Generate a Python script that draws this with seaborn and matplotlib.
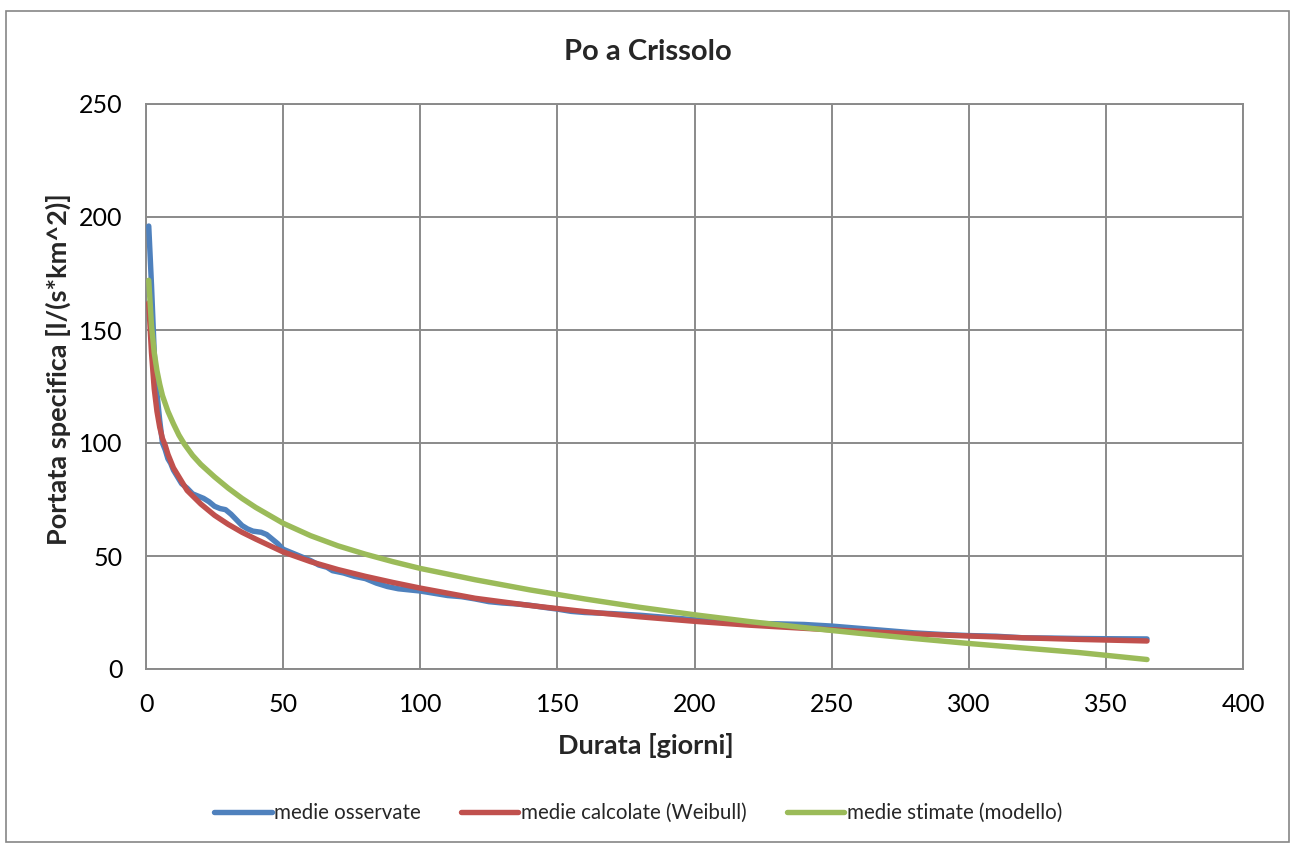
import matplotlib
matplotlib.use("Agg")
import matplotlib.pyplot as plt
from matplotlib.patches import Rectangle
import seaborn as sns
import pandas as pd

# Curva di durata delle portate specifiche - Po a Crissolo
days_obs = [1, 2, 3, 4, 5, 6, 7, 8, 9, 10, 11, 12, 13, 15, 17, 19, 21, 23, 25, 27,
            29, 31, 33, 35, 37, 39, 42, 44, 46, 48, 50, 52, 55, 58, 60, 63, 66, 68,
            72, 76, 80, 84, 88, 92, 100, 105, 110, 115, 120, 125, 130, 135, 140, 145,
            150, 155, 160, 170, 180, 190, 200, 210, 220, 230, 240, 250, 260, 270, 280,
            290, 300, 310, 320, 330, 340, 350, 365]
q_obs = [196, 170, 140, 122, 110, 100, 97, 93, 91, 88, 86, 84, 82, 80, 77.5, 76.5,
         75.5, 74, 72, 71, 70.5, 68.5, 66, 63.5, 62, 61, 60.5, 59.5, 57.5, 55.5, 53,
         52, 50.5, 49, 48, 46, 45, 43.5, 42.5, 41, 40, 38, 36.5, 35.5, 34.5, 33.5,
         32.5, 32, 31, 29.8, 29.2, 28.8, 28.2, 27.3, 26.5, 25.5, 25, 24.5, 23.8, 22.8,
         21.8, 20.8, 20.2, 20.0, 19.7, 19, 18, 17, 16, 15.3, 14.8, 14.5, 13.8, 13.7,
         13.5, 13.4, 13.3]

days_weib = [1, 2, 3, 4, 5, 6, 7, 8, 10, 12, 15, 20, 25, 30, 35, 40, 50, 60, 70, 80,
             90, 100, 120, 140, 160, 180, 200, 220, 240, 260, 280, 300, 320, 340, 365]
q_weib = [162, 140, 124, 114, 107, 102, 99, 95, 89, 85, 79, 73, 68, 64, 60.5, 57.5,
          51.8, 47.5, 44, 41, 38.3, 35.8, 31.3, 28.1, 25.4, 23.1, 21.1, 19.4, 18,
          16.7, 15.5, 14.6, 13.8, 13.1, 12.4]

days_mod = [1, 2, 3, 4, 5, 6, 8, 10, 12, 14, 17, 20, 25, 30, 35, 40, 50, 60, 70, 80,
            90, 100, 120, 140, 160, 180, 200, 220, 240, 260, 280, 300, 320, 340, 365]
q_mod = [172, 152, 140, 132, 126, 121, 114, 108.5, 103.5, 99.5, 94.5, 90.5, 85, 80,
         75.5, 71.5, 64.5, 59, 54.5, 50.8, 47.5, 44.5, 39.5, 35, 31, 27.3, 24, 21,
         18.3, 15.8, 13.5, 11.3, 9.3, 7.3, 4.2]

series_names = ["medie osservate", "medie calcolate (Weibull)", "medie stimate (modello)"]
series_colors = ["#4F81BD", "#C0504D", "#9BBB59"]

df = pd.concat([
    pd.DataFrame({"durata": days_obs, "q": q_obs, "serie": series_names[0]}),
    pd.DataFrame({"durata": days_weib, "q": q_weib, "serie": series_names[1]}),
    pd.DataFrame({"durata": days_mod, "q": q_mod, "serie": series_names[2]}),
], ignore_index=True)

sns.set_style("white")
plt.rcParams["font.family"] = ["Lato", "DejaVu Sans"]

W, H = 1293, 844
fig = plt.figure(figsize=(W / 100, H / 100), dpi=100)
ax = fig.add_axes([146 / W, 1 - 669 / H, (1243 - 146) / W, (669 - 104) / H])

grey = "#8a8a8a"
sns.lineplot(data=df, x="durata", y="q", hue="serie", hue_order=series_names,
             palette=series_colors, linewidth=3.9, sort=True, ax=ax,
             solid_capstyle="round", legend=True, zorder=3)

ax.set_xlim(0, 400)
ax.set_ylim(0, 250)
ax.set_xticks(range(0, 401, 50))
ax.set_yticks(range(0, 251, 50))
ax.grid(True, color=grey, linewidth=1.4, zorder=0)
ax.set_axisbelow(True)
for sp in ax.spines.values():
    sp.set_color(grey)
    sp.set_linewidth(1.4)
ax.tick_params(axis="both", direction="out", length=6, width=1.4, color=grey,
               labelsize=18, pad=11, labelcolor="black")

ax.set_xlabel("Durata [giorni]", fontsize=19.5, fontweight="bold")
ax.set_ylabel("Portata specifica [l/(s*km^2)]", fontsize=19.5, fontweight="bold")
ax.xaxis.set_label_coords((646 - 146) / 1097, (669 - 745) / 565)
ax.xaxis.label.set_va("center")
ax.yaxis.set_label_coords((58 - 146) / 1097, (669 - 369) / 565)
ax.yaxis.label.set_va("center")

fig.text(648 / W, 1 - 52 / H, "Po a Crissolo", fontsize=21, fontweight="bold",
         ha="center", va="center")

handles, labels = ax.get_legend_handles_labels()
ax.legend_.remove()
leg = fig.legend(handles, labels, loc="center", bbox_to_anchor=(638 / W, 1 - 813 / H),
                 ncol=3, frameon=False, fontsize=14.8, handlelength=2.8,
                 handletextpad=0.12, columnspacing=1.95)
for line in leg.get_lines():
    line.set_linewidth(3.9)
    line.set_solid_capstyle("round")

fig.patches.append(Rectangle((6 / W, 1 - 842 / H), (1289 - 6) / W, (842 - 11) / H,
                             transform=fig.transFigure, fill=False,
                             edgecolor="#868686", linewidth=1.2))

fig.savefig("out.png", dpi=100, facecolor="white")
